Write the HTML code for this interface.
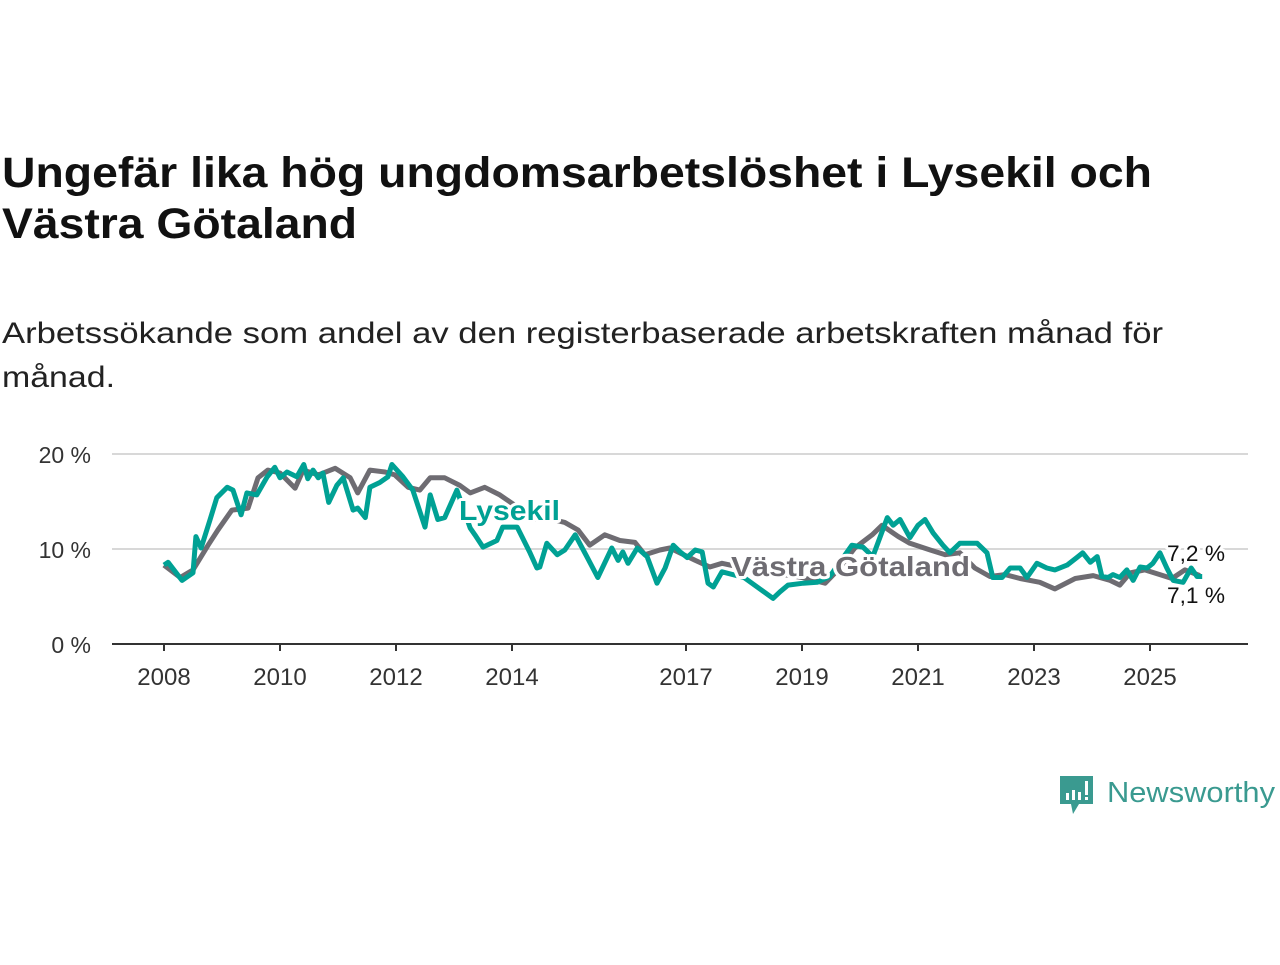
<!DOCTYPE html>
<html><head><meta charset="utf-8"><style>
body{margin:0;background:#fff;width:1280px;height:960px;overflow:hidden;font-family:"Liberation Sans","DejaVu Sans",sans-serif;}
</style></head><body>
<svg width="1280" height="960" xmlns="http://www.w3.org/2000/svg">
<text x="2" y="187" font-size="43" font-weight="bold" fill="#111" textLength="1150" lengthAdjust="spacingAndGlyphs">Ungefär lika hög ungdomsarbetslöshet i Lysekil och</text>
<text x="2" y="238" font-size="43" font-weight="bold" fill="#111" textLength="355" lengthAdjust="spacingAndGlyphs">Västra Götaland</text>
<text x="2" y="343" font-size="30" fill="#222" textLength="1161" lengthAdjust="spacingAndGlyphs">Arbetssökande som andel av den registerbaserade arbetskraften månad för</text>
<text x="2" y="387" font-size="30" fill="#222" textLength="113" lengthAdjust="spacingAndGlyphs">månad.</text>
<g id="grid"></g>
<g id="xax"></g>
<g id="lines"></g>
<g id="labels"></g>
<g>
<path d="M1060 776 h33 v28 h-14 l-6 10 l-2 -10 h-11 z" fill="#3a9a90"/>
<rect x="1066" y="793" width="3" height="7" fill="#fff"/><rect x="1072" y="790" width="3" height="10" fill="#fff"/><rect x="1078" y="792" width="3" height="8" fill="#fff"/><rect x="1085" y="781" width="3" height="14" fill="#fff"/><rect x="1085" y="797" width="3" height="3" fill="#fff"/>
<text x="1107" y="802" font-size="29" fill="#3a9a90" textLength="168" lengthAdjust="spacingAndGlyphs">Newsworthy</text>
</g>
</svg>
<script>
const yTicks=[0,10,20];
const yTickLabels=["0 %","10 %","20 %"];
const xTicks=[2008,2010,2012,2014,2017,2019,2021,2023,2025];
const gT=[0,.28,.5,.76,.93,1.17,1.45,1.62,1.79,2.0,2.26,2.4,2.66,2.95,3.21,3.34,3.55,3.81,3.98,4.21,4.41,4.59,4.84,5.1,5.28,5.53,5.79,6.05,6.31,6.57,6.91,7.14,7.34,7.6,7.86,8.12,8.29,8.55,8.72,9.16,9.41,9.62,10.0,10.5,11.0,11.4,11.62,11.91,12.21,12.38,12.66,12.86,13.21,13.47,13.72,13.98,14.24,14.5,14.76,15.1,15.36,15.71,16.02,16.31,16.48,16.66,16.91,17.17,17.38,17.6,17.86];
const gV=[8.3,7.0,7.8,10.4,12,14.1,14.3,17.5,18.3,18,16.4,18.3,17.8,18.5,17.5,15.9,18.3,18.1,17.8,16.5,16.2,17.5,17.5,16.7,15.9,16.5,15.7,14.6,13.1,13.3,12.8,12,10.4,11.5,10.9,10.7,9.4,9.9,10.1,8.8,8.1,8.5,8.0,7.5,7.0,6.4,7.8,10.1,11.5,12.5,11.3,10.6,9.9,9.4,9.6,8,7.1,7.3,6.9,6.5,5.8,6.9,7.2,6.7,6.2,7.5,7.8,7.3,6.9,7.8,7.2];
const lT=[0,.07,.31,.5,.55,.64,.79,.91,1.09,1.19,1.33,1.43,1.6,1.78,1.91,2.0,2.12,2.29,2.41,2.48,2.57,2.66,2.74,2.84,2.98,3.09,3.26,3.34,3.47,3.55,3.72,3.86,3.93,4.12,4.29,4.5,4.59,4.72,4.84,5.05,5.28,5.36,5.5,5.74,5.84,6.09,6.31,6.43,6.48,6.6,6.78,6.91,7.09,7.29,7.48,7.72,7.83,7.91,8.0,8.16,8.33,8.5,8.64,8.78,8.9,9.02,9.16,9.28,9.38,9.47,9.62,10.0,10.5,10.62,10.76,11.02,11.26,11.48,11.86,12.05,12.22,12.47,12.57,12.69,12.86,13.0,13.12,13.26,13.43,13.55,13.72,14.02,14.19,14.29,14.45,14.59,14.76,14.88,15.05,15.22,15.36,15.57,15.74,15.84,15.97,16.09,16.17,16.28,16.36,16.48,16.6,16.71,16.83,16.95,17.05,17.17,17.29,17.4,17.57,17.71,17.81,17.9];
const lV=[8.3,8.6,6.7,7.5,11.3,10.1,13,15.4,16.5,16.2,13.6,15.9,15.7,17.6,18.6,17.5,18.1,17.6,18.9,17.4,18.3,17.5,18,14.9,16.7,17.5,14.1,14.3,13.3,16.5,17,17.6,18.9,17.6,16.2,12.3,15.7,13.1,13.3,16.2,12.2,11.5,10.2,10.9,12.3,12.3,9.6,8,8.1,10.6,9.4,9.9,11.5,9.2,7,10.1,8.8,9.7,8.5,10.1,9.2,6.4,8,10.4,9.7,9.1,9.9,9.7,6.4,6,7.6,7.0,4.8,5.5,6.2,6.4,6.5,7.1,10.4,10.2,9.2,13.3,12.5,13.1,11.2,12.5,13.1,11.7,10.4,9.6,10.6,10.6,9.6,7,7,8,8,7,8.5,8,7.8,8.3,9.1,9.6,8.6,9.2,7.1,7,7.3,7,7.8,6.7,8.1,8,8.5,9.6,8,6.7,6.5,8,7.1,7.1];
const NS="http://www.w3.org/2000/svg";
const X=t=>164+58*t, Xy=y=>164+58*(y-2008), Y=v=>644-9.5*v;
function mk(tag,attrs,parent,txt){const e=document.createElementNS(NS,tag);for(const k in attrs)e.setAttribute(k,attrs[k]);if(txt!==undefined)e.textContent=txt;document.getElementById(parent).appendChild(e);return e;}
yTicks.forEach((v,i)=>{
 const l=mk('line',{x1:112,x2:1248,y1:Y(v),y2:Y(v),stroke:v===0?'#333':'#d8d8d8','stroke-width':2},'grid');
 
 
 const t=mk('text',{x:91,y:Y(v)+9,'font-size':23,fill:'#333','text-anchor':'end'},'grid',yTickLabels[i]);
 
 
});
xTicks.forEach(y=>{
 const l=mk('line',{x1:Xy(y),x2:Xy(y),y1:644,y2:651,stroke:'#333','stroke-width':2},'xax');
 
 
 const t=mk('text',{x:Xy(y),y:685,'font-size':24,fill:'#333','text-anchor':'middle'},'xax',String(y));
 
 
});
function pts(T,V){return T.map((t,i)=>X(t).toFixed(1)+','+Y(V[i]).toFixed(1)).join(' ');}
const g=mk('polyline',{points:pts(gT,gV),fill:'none',stroke:'#6e6c72','stroke-width':5,'stroke-linejoin':'round'},'lines');


const l=mk('polyline',{points:pts(lT,lV),fill:'none',stroke:'#00a194','stroke-width':5,'stroke-linejoin':'round'},'lines');


function lab(x,y,txt,col,name,anchor,bold,size,len){
 const a={x:x,y:y,'font-size':size,'font-weight':bold?'bold':'normal','text-anchor':anchor};
 if(len){a.textLength=len;a.lengthAdjust='spacingAndGlyphs';}
 const h=mk('text',Object.assign({},a,{fill:'#fff',stroke:'#fff','stroke-width':6,'stroke-linejoin':'round'}),'labels',txt);
 
 
 const t=mk('text',Object.assign({},a,{fill:col}),'labels',txt);
 
 
}
lab(459,520,'Lysekil','#00a194','lysekil-label','start',true,28,101);
lab(731,576,'Västra Götaland','#6e6c72','vastra-gotaland-label','start',true,28,239);
lab(1167,561,'7,2 %','#111','last-value-lysekil','start',false,22,58);
lab(1167,603,'7,1 %','#111','last-value-vastra-gotaland','start',false,22,58);
</script>
</body></html>
